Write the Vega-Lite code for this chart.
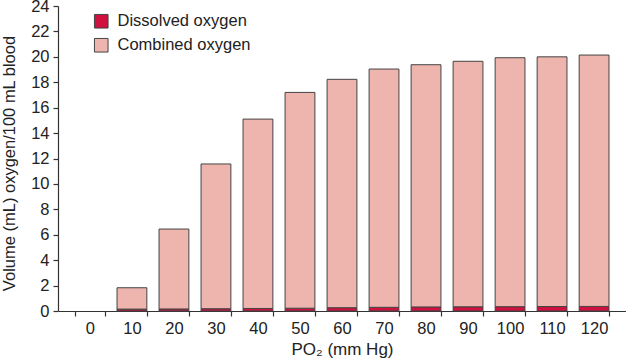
{
  "$schema": "https://vega.github.io/schema/vega-lite/v6.json",
  "width": 568,
  "height": 305,
  "autosize": {"type": "none"},
  "padding": {"left": 58, "top": 6, "right": 0, "bottom": 51},
  "background": "white",
  "config": {
    "font": "Liberation Sans",
    "view": {"stroke": null},
    "axis": {"grid": false, "domainColor": "#333", "tickColor": "#333", "labelColor": "#222", "titleColor": "#222", "labelFontSize": 16.5, "titleFontSize": 16.5, "titleFontWeight": "normal", "tickSize": 5, "domainWidth": 1.2, "tickWidth": 1.2}
  },
  "data": {
    "values": [
      {"po2": 10, "type": "Dissolved oxygen", "v": 0.15},
      {"po2": 10, "type": "Combined oxygen", "v": 1.68},
      {"po2": 20, "type": "Dissolved oxygen", "v": 0.16},
      {"po2": 20, "type": "Combined oxygen", "v": 6.29},
      {"po2": 30, "type": "Dissolved oxygen", "v": 0.18},
      {"po2": 30, "type": "Combined oxygen", "v": 11.39},
      {"po2": 40, "type": "Dissolved oxygen", "v": 0.2},
      {"po2": 40, "type": "Combined oxygen", "v": 14.9},
      {"po2": 50, "type": "Dissolved oxygen", "v": 0.22},
      {"po2": 50, "type": "Combined oxygen", "v": 16.98},
      {"po2": 60, "type": "Dissolved oxygen", "v": 0.26},
      {"po2": 60, "type": "Combined oxygen", "v": 17.97},
      {"po2": 70, "type": "Dissolved oxygen", "v": 0.29},
      {"po2": 70, "type": "Combined oxygen", "v": 18.75},
      {"po2": 80, "type": "Dissolved oxygen", "v": 0.32},
      {"po2": 80, "type": "Combined oxygen", "v": 19.06},
      {"po2": 90, "type": "Dissolved oxygen", "v": 0.33},
      {"po2": 90, "type": "Combined oxygen", "v": 19.32},
      {"po2": 100, "type": "Dissolved oxygen", "v": 0.34},
      {"po2": 100, "type": "Combined oxygen", "v": 19.59},
      {"po2": 110, "type": "Dissolved oxygen", "v": 0.35},
      {"po2": 110, "type": "Combined oxygen", "v": 19.65},
      {"po2": 120, "type": "Dissolved oxygen", "v": 0.36},
      {"po2": 120, "type": "Combined oxygen", "v": 19.78}
    ]
  },
  "mark": {"type": "bar", "stroke": "#444", "strokeWidth": 1},
  "encoding": {
    "x": {
      "field": "po2", "type": "ordinal",
      "scale": {"domain": [0, 10, 20, 30, 40, 50, 60, 70, 80, 90, 100, 110, 120], "paddingInner": 0.29, "paddingOuter": 0.405},
      "axis": {"title": "PO₂ (mm Hg)", "labelAngle": 0, "tickBand": "extent", "labelPadding": 4, "titlePadding": 5, "titleFontSize": 17}
    },
    "y": {
      "field": "v", "type": "quantitative", "stack": "zero",
      "scale": {"domain": [0, 24], "nice": false},
      "axis": {"title": "Volume (mL) oxygen/100 mL blood", "values": [0, 2, 4, 6, 8, 10, 12, 14, 16, 18, 20, 22, 24], "labelPadding": 4, "titleX": -49, "titleY": 157, "titleAlign": "center", "titleBaseline": "middle"}
    },
    "color": {
      "field": "type", "type": "nominal",
      "scale": {"domain": ["Dissolved oxygen", "Combined oxygen"], "range": ["#d0103f", "#edb5ae"]},
      "legend": {"title": null, "orient": "none", "legendX": 35, "legendY": 7, "symbolType": "square", "symbolSize": 185, "symbolStrokeColor": "#444", "symbolStrokeWidth": 1, "labelFontSize": 16.5, "labelColor": "#222", "rowPadding": 5, "labelOffset": 8}
    },
    "order": {"field": "type", "sort": "descending"}
  }
}
